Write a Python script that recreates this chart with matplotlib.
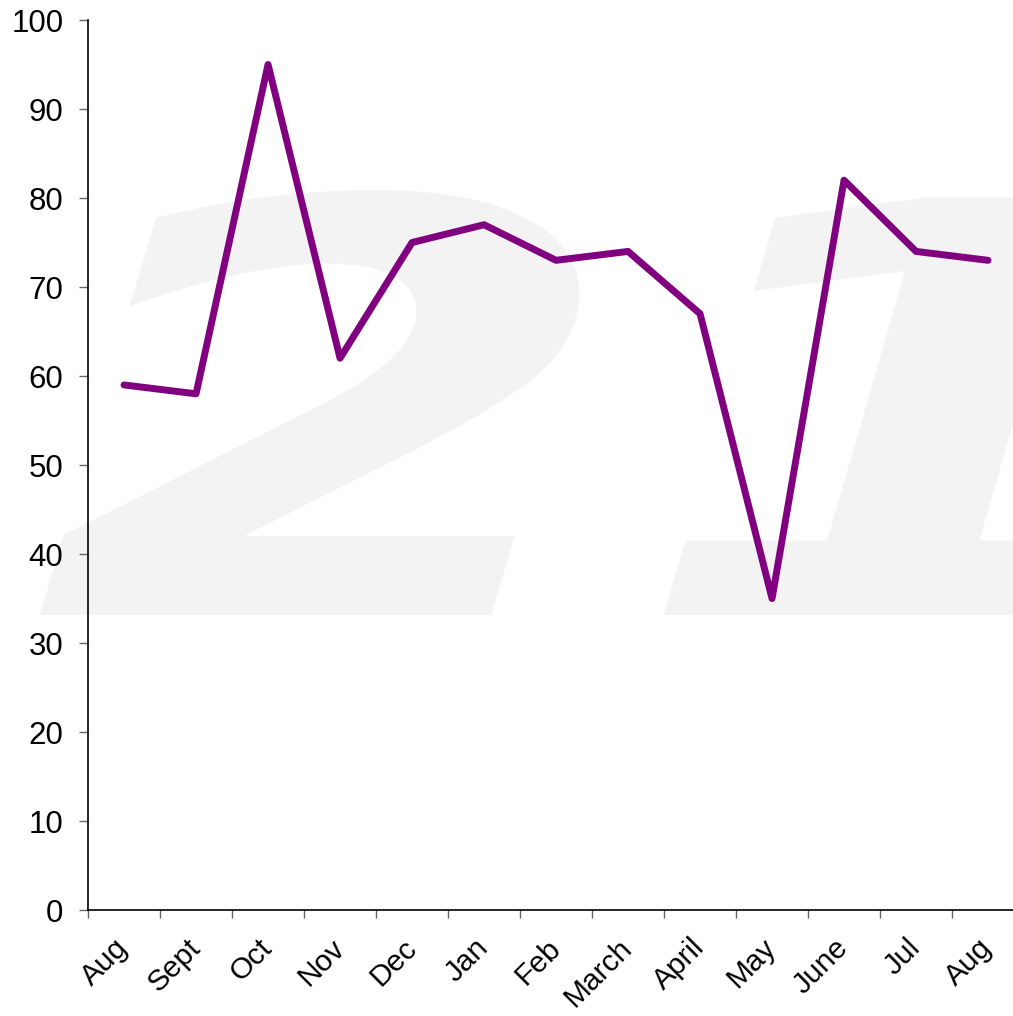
import numpy as np
import matplotlib.pyplot as plt
from matplotlib.textpath import TextPath
from matplotlib.patches import PathPatch
from matplotlib.font_manager import FontProperties
from matplotlib.transforms import Affine2D, IdentityTransform

months = ["Aug", "Sept", "Oct", "Nov", "Dec", "Jan", "Feb", "March",
          "April", "May", "June", "Jul", "Aug"]
values = [59, 58, 95, 62, 75, 77, 73, 74, 67, 35, 82, 74, 73]

plt.rcParams['font.family'] = ['Liberation Sans', 'DejaVu Sans']

fig = plt.figure(figsize=(10.13, 10.16), dpi=100)
ax = fig.add_axes([0.0869, 0.1043, 0.924, 0.876])
ax.set_zorder(1)
ax.set_facecolor('none')

# faint "21" watermark behind the plot, stretched wide like the logo
tp = TextPath((0, 0), "21", size=100,
              prop=FontProperties(family='DejaVu Sans', weight='bold', style='italic'))
ext = tp.get_extents()
sx = 1080 / ext.width
sy = 425 / ext.height
tr = Affine2D().translate(-ext.x0, -ext.y0).scale(sx, sy).translate(40, 401)
wm = PathPatch(tr.transform_path(tp), facecolor='#f3f3f3', edgecolor='none',
               transform=IdentityTransform(), zorder=0)
fig.add_artist(wm)

x = np.arange(len(months))
ax.plot(x, values, color='#800080', linewidth=5,
        solid_capstyle='round', solid_joinstyle='round', zorder=3)

ax.set_xlim(-0.5, len(months) - 0.5)
ax.set_ylim(0, 100)
ax.set_yticks(np.arange(0, 101, 10))
ax.set_xticks(x)
ax.set_xticklabels(months, rotation=45, ha='right', va='center',
                   rotation_mode='anchor')
ax.set_xticks(x - 0.5, minor=True)

ax.tick_params(axis='y', length=6.7, width=1, color='#666666',
               labelsize=22.5, pad=11)
ax.tick_params(axis='x', which='major', length=0, labelsize=21.5, pad=24)
ax.tick_params(axis='x', which='minor', length=6, width=1, color='#666666')

for s in ['top', 'right']:
    ax.spines[s].set_visible(False)
for s in ['left', 'bottom']:
    ax.spines[s].set_linewidth(1.2)

fig.savefig('out.png', dpi=100)
